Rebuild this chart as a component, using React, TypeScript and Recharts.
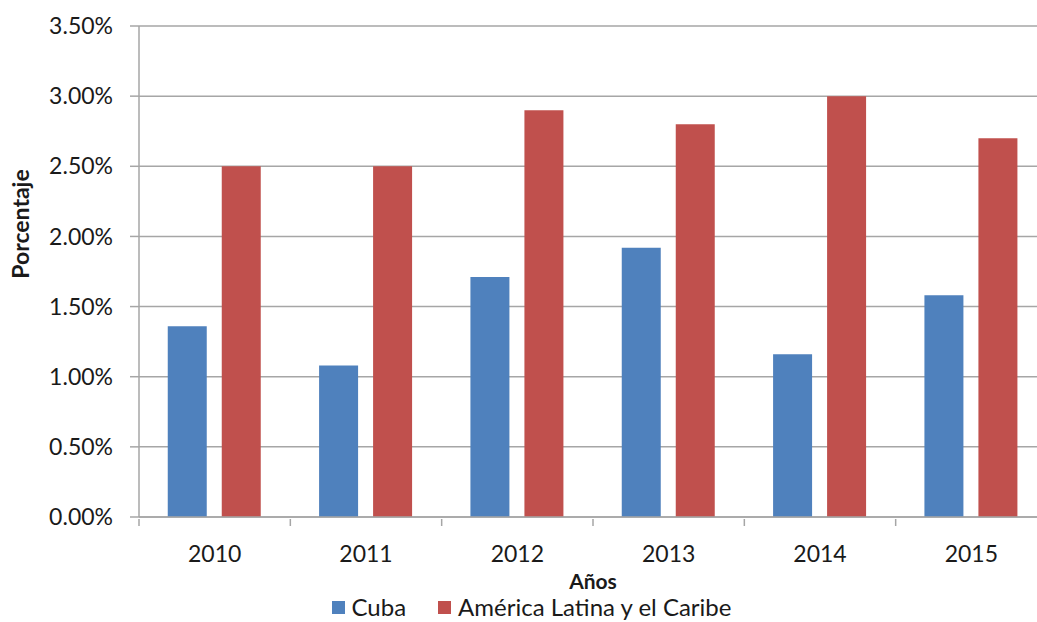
import React from 'react';
import { BarChart, Bar, XAxis, YAxis, CartesianGrid, Legend } from 'recharts';

const years = ['2010', '2011', '2012', '2013', '2014', '2015'];
const cuba = [1.36, 1.08, 1.71, 1.92, 1.16, 1.58];
const latam = [2.5, 2.5, 2.9, 2.8, 3.0, 2.7];
const yTicks = [0, 0.5, 1, 1.5, 2, 2.5, 3, 3.5];
const seriesNames = ['Cuba', 'América Latina y el Caribe'];
const seriesColors = ['#4f81bd', '#c0504d'];

const data = years.map((y, i) => ({ year: y, cuba: cuba[i], latam: latam[i] }));

const FONT = 'Lato, "Open Sans", sans-serif';
const TEXT = '#1a1a1a';
const GRID = '#a6a6a6';
const BAND = 908 / years.length;

const XTick = (props: any) => {
  const { x, y, payload } = props;
  return (
    <g>
      <line x1={x - BAND / 2} y1={y} x2={x - BAND / 2} y2={y + 7} stroke={GRID} strokeWidth={1.5} />
      <text x={x} y={y + 43} textAnchor="middle" fontSize={23} fontFamily={FONT} fill={TEXT}>
        {payload.value}
      </text>
    </g>
  );
};

const LegendBox = () => (
  <div style={{ display: 'flex', justifyContent: 'center', paddingLeft: 16, fontFamily: FONT, fontSize: 24, color: TEXT, lineHeight: '30px' }}>
    {seriesNames.map((n, i) => (
      <div key={n} style={{ display: 'flex', alignItems: 'center', marginRight: i === 0 ? 32 : 0 }}>
        <span style={{ display: 'inline-block', width: 13, height: 13, background: seriesColors[i], marginRight: 7 }} />
        <span>{n}</span>
      </div>
    ))}
  </div>
);

export default function App() {
  return (
    <div style={{ position: 'absolute', left: 0, top: 0, width: 1037, height: 622, overflow: 'hidden', background: '#fff' }}>
      <BarChart
        width={1050}
        height={622}
        data={data}
        margin={{ top: 26, right: 3, left: 0, bottom: 0 }}
        barCategoryGap="19%"
        barGap={15}
      >
        <CartesianGrid vertical={false} stroke={GRID} strokeWidth={1.5} />
        <XAxis
          dataKey="year"
          height={75}
          stroke={GRID}
          strokeWidth={1.5}
          tickLine={false}
          tickSize={0}
          tick={<XTick />}
          interval={0}
          label={{
            content: (p: any) => (
              <text
                x={p.viewBox.x + p.viewBox.width / 2}
                y={589}
                textAnchor="middle"
                fontSize={21}
                fontWeight="bold"
                fontFamily={FONT}
                fill={TEXT}
              >
                Años
              </text>
            ),
          }}
        />
        <YAxis
          width={139}
          domain={[0, 3.5]}
          ticks={yTicks}
          interval={0}
          stroke={GRID}
          strokeWidth={1.5}
          tickSize={9}
          tickMargin={17}
          tickFormatter={(v: number) => `${v.toFixed(2)}%`}
          tick={{ fontSize: 23, fontFamily: FONT, fill: TEXT }}
          label={{
            content: () => (
              <text
                x={29}
                y={224}
                transform="rotate(-90, 29, 224)"
                textAnchor="middle"
                fontSize={23}
                fontWeight="bold"
                fontFamily={FONT}
                fill={TEXT}
              >
                Porcentaje
              </text>
            ),
          }}
        />
        <Legend verticalAlign="bottom" height={30} content={<LegendBox />} />
        <Bar dataKey="cuba" name={seriesNames[0]} fill={seriesColors[0]} isAnimationActive={false} />
        <Bar dataKey="latam" name={seriesNames[1]} fill={seriesColors[1]} isAnimationActive={false} />
      </BarChart>
    </div>
  );
}
